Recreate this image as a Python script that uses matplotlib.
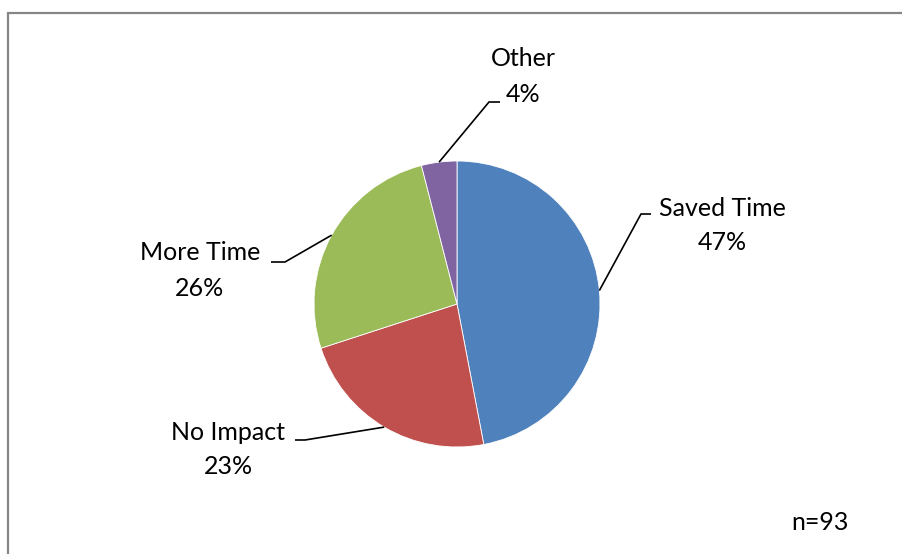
import numpy as np
import matplotlib
matplotlib.use("Agg")
import matplotlib.pyplot as plt
from matplotlib.patches import Rectangle

categories = ["Saved Time", "No Impact", "More Time", "Other"]
values = [47, 23, 26, 4]
colors = ["#4F81BD", "#C0504D", "#9BBB59", "#8064A2"]
note = "n=93"

W, H = 902, 554
fig = plt.figure(figsize=(W / 100, H / 100), dpi=100)
ax = fig.add_axes([0, 0, 1, 1])
ax.set_xlim(0, W)
ax.set_ylim(0, H)
ax.axis("off")

plt.rcParams['font.family'] = ['Lato', 'DejaVu Sans']
FS = 18

cx, cy, r = 457, H - 304, 143
wedges, _ = ax.pie(values, colors=colors, startangle=90, counterclock=False,
                   center=(cx, cy), radius=r, frame=True,
                   wedgeprops=dict(edgecolor="white", linewidth=0.6))
ax.set_xlim(0, W)
ax.set_ylim(0, H)
ax.set_aspect("auto")
ax.axis("off")

# label layout: (elbow x, elbow y, horizontal end x, text center x, name y, pct y)
layout = {
    "Saved Time": (641, 214, 651, 722, 208, 243, "left"),
    "No Impact": (305, 440, 295, 228, 433, 467, "right"),
    "More Time": (285, 262, 271, 200, 252, 288, "right"),
    "Other": (489, 102, 500, 523, 59, 95, "left"),
}

total = sum(values)
start = 90.0
for cat, v in zip(categories, values):
    sweep = 360.0 * v / total
    mid = np.deg2rad(start - sweep / 2)
    start -= sweep
    ex, ey = cx + r * np.cos(mid), cy + r * np.sin(mid)
    bx, by, hx, tx, ny, py, side = layout[cat]
    ax.plot([ex, bx, hx], [ey, H - by, H - by], color="black", lw=1.2,
            solid_capstyle="butt")
    ax.text(tx, H - ny, cat, ha="center", va="center", fontsize=FS)
    ax.text(tx, H - py, f"{v}%", ha="center", va="center", fontsize=FS)

ax.text(820, H - 522, note, ha="center", va="center", fontsize=FS)

ax.add_patch(Rectangle((7.5, -10), W + 20, H - 12.5 + 10, fill=False,
                       edgecolor="#868686", lw=1.6))

fig.savefig("out.png", dpi=100)
